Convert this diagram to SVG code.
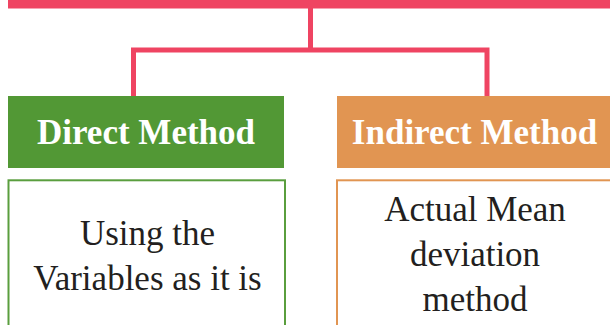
<svg xmlns="http://www.w3.org/2000/svg" width="610" height="325" viewBox="0 0 610 325">
<style>
.hd{font-family:"Liberation Serif",serif;font-weight:bold;font-size:35px;fill:#ffffff;text-anchor:middle}
.bd{font-family:"Liberation Serif",serif;font-size:35px;fill:#231f20;text-anchor:middle}
.con{stroke:#ef4462;stroke-width:5;fill:none}
</style>
<rect x="0" y="0" width="610" height="325" fill="#ffffff"/>
<g id="top">
<rect x="8" y="0" width="604" height="8.5" fill="#ef4462"/>
</g>
<g id="connectors">
<path class="con" d="M310.5 8 V50 M133.5 96 V50 H487 V96"/>
</g>
<g id="direct-header">
<rect x="8" y="96" width="276" height="72" fill="#529835"/>
<text class="hd" x="146" y="144">Direct Method</text>
</g>
<g id="indirect-header">
<rect x="337" y="96" width="276" height="72" fill="#e19552"/>
<text class="hd" x="474.5" y="144">Indirect Method</text>
</g>
<g id="direct-body">
<rect x="8.5" y="180.3" width="276.5" height="160" fill="#ffffff" stroke="#5a9e3e" stroke-width="2"/>
<text class="bd" x="147.5" y="245">Using the</text>
<text class="bd" x="147.5" y="290">Variables as it is</text>
</g>
<g id="indirect-body">
<rect x="337" y="180.3" width="290" height="160" fill="#ffffff" stroke="#e19552" stroke-width="2"/>
<text class="bd" x="475" y="221">Actual Mean</text>
<text class="bd" x="475" y="266">deviation</text>
<text class="bd" x="475" y="311">method</text>
</g>
</svg>
